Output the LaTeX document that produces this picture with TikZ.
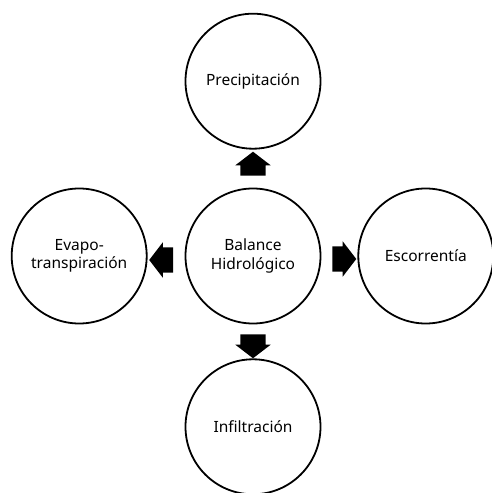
\documentclass[tikz,border=0pt]{standalone}
\usepackage{fontspec}
\setmainfont{Noto Sans}
\usetikzlibrary{shapes.arrows, positioning, calc}

\begin{document}
\begin{tikzpicture}[x=1pt, y=1pt,
  stage/.style={draw, circle, line width=1.8pt, minimum size=135pt, inner sep=0pt,
    align=center, font=\fontsize{15.5}{18.5}\selectfont},
  flowarrow/.style={single arrow, fill=black, draw=none, inner xsep=0pt, inner ysep=12.5pt,
    minimum height=24pt, single arrow head extend=5pt,
    single arrow tip angle=105}]
  \useasboundingbox (-253,-237) rectangle (238,256);

  % Central balance
  \node[stage] (balance) at (0,0) {Balance\\Hidrológico};

  % Components around it
  \node[stage, above=38pt of balance] (precip) {Precipitación};
  \node[stage, below=34pt of balance] (infil) {Infiltración};
  \node[stage, left=37pt of balance] (evapo) {Evapo-\\transpiración};
  \node[stage, right=36pt of balance] (escorr) {Escorrentía};

  % Block arrows between the circles
  \node[flowarrow, rotate=90] (upar) at ($(balance.north)!0.5!(precip.south)$) {};
  \node[flowarrow, rotate=-90] (downar) at ($(balance.south)!0.5!(infil.north)$) {};
  \node[flowarrow, rotate=180] (leftar) at ($(balance.west)!0.5!(evapo.east)+(0,-4)$) {};
  \node[flowarrow] (rightar) at ($(balance.east)!0.5!(escorr.west)+(0,-3)$) {};
\end{tikzpicture}
\end{document}
